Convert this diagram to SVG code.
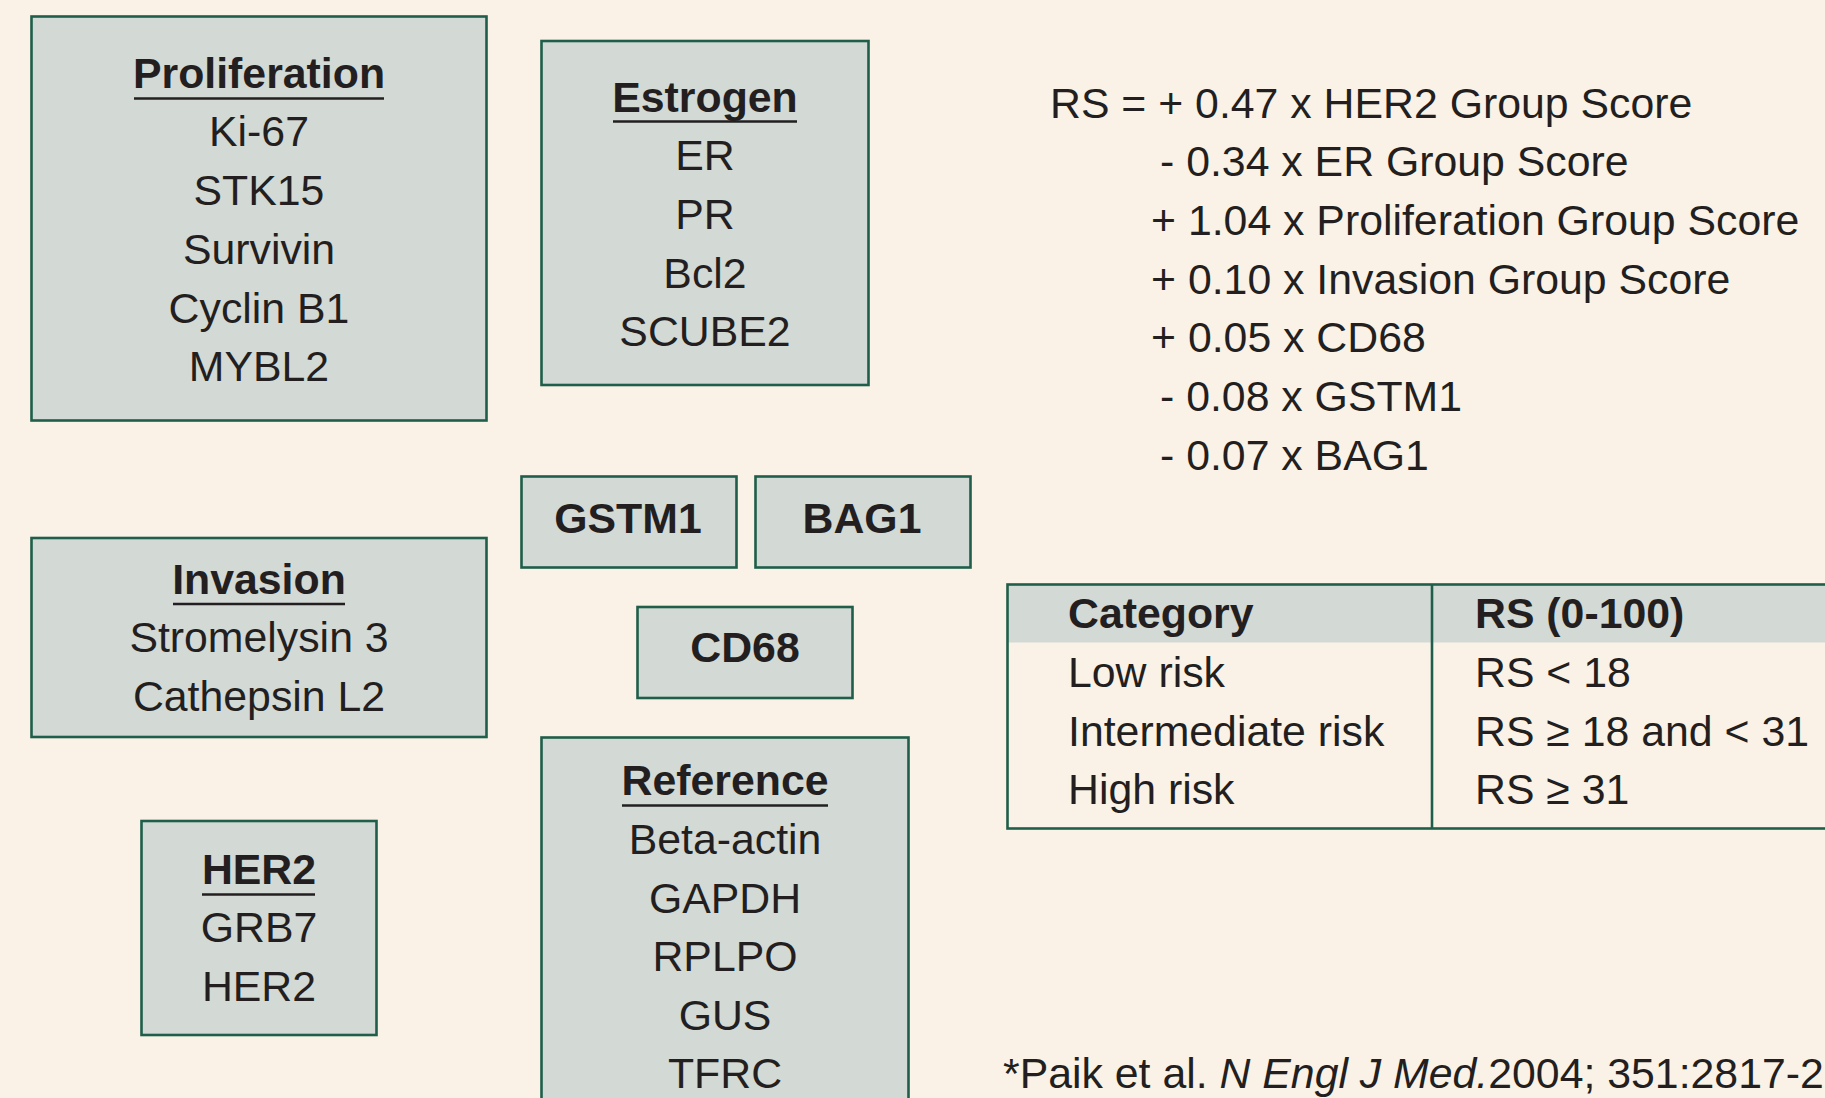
<svg xmlns="http://www.w3.org/2000/svg" width="1825" height="1098" viewBox="0 0 1825 1098">
<style>
.bg{fill:#faf2e6}
.box{fill:#d3d9d5;stroke:#1e5e4a;stroke-width:2.6}
.t{font-family:"Liberation Sans",Arial,Helvetica,sans-serif;font-size:42.8px;fill:#231f20}
.c{text-anchor:middle}
.b{font-weight:bold}
.ul{stroke:#231f20;stroke-width:2.6}
.tb{fill:none;stroke:#1e5e4a;stroke-width:2.6}
.hdr{fill:#d3d9d5}
</style>
<rect class="bg" x="0" y="0" width="1825" height="1098"/>

<g id="proliferation">
<rect class="box" x="31.5" y="16.5" width="455" height="404"/>
<text class="t c b" x="259" y="87.5">Proliferation</text>
<line class="ul" x1="134" y1="98.5" x2="384" y2="98.5"/>
<text class="t c" x="259" y="146">Ki-67</text>
<text class="t c" x="259" y="205">STK15</text>
<text class="t c" x="259" y="263.5">Survivin</text>
<text class="t c" x="259" y="322.5">Cyclin B1</text>
<text class="t c" x="259" y="381">MYBL2</text>
</g>

<g id="estrogen">
<rect class="box" x="541.5" y="41" width="327" height="344"/>
<text class="t c b" x="705" y="112">Estrogen</text>
<line class="ul" x1="613" y1="121.5" x2="797" y2="121.5"/>
<text class="t c" x="705" y="170">ER</text>
<text class="t c" x="705" y="228.5">PR</text>
<text class="t c" x="705" y="287.5">Bcl2</text>
<text class="t c" x="705" y="346">SCUBE2</text>
</g>

<g id="gstm1">
<rect class="box" x="521.5" y="476.5" width="215" height="91"/>
<text class="t c b" x="628" y="532.5">GSTM1</text>
</g>

<g id="bag1">
<rect class="box" x="755.5" y="476.5" width="215" height="91"/>
<text class="t c b" x="862" y="532.5">BAG1</text>
</g>

<g id="cd68">
<rect class="box" x="637.5" y="607" width="215" height="91"/>
<text class="t c b" x="745" y="662">CD68</text>
</g>

<g id="invasion">
<rect class="box" x="31.5" y="538" width="455" height="199"/>
<text class="t c b" x="259" y="594">Invasion</text>
<line class="ul" x1="173" y1="604" x2="345" y2="604"/>
<text class="t c" x="259" y="652">Stromelysin 3</text>
<text class="t c" x="259" y="710.5">Cathepsin L2</text>
</g>

<g id="her2">
<rect class="box" x="141.5" y="821" width="235" height="214"/>
<text class="t c b" x="259" y="883.5">HER2</text>
<line class="ul" x1="202" y1="894.5" x2="315" y2="894.5"/>
<text class="t c" x="259" y="942">GRB7</text>
<text class="t c" x="259" y="1001">HER2</text>
</g>

<g id="reference">
<rect class="box" x="541.5" y="737.5" width="367" height="370"/>
<text class="t c b" x="725" y="795">Reference</text>
<line class="ul" x1="622" y1="805.5" x2="828" y2="805.5"/>
<text class="t c" x="725" y="853.5">Beta-actin</text>
<text class="t c" x="725" y="913">GAPDH</text>
<text class="t c" x="725" y="971">RPLPO</text>
<text class="t c" x="725" y="1029.5">GUS</text>
<text class="t c" x="725" y="1088">TFRC</text>
</g>

<g id="equation">
<text class="t" x="1050" y="118">RS = + 0.47 x HER2 Group Score</text>
<text class="t" x="1160" y="176">- 0.34 x ER Group Score</text>
<text class="t" x="1151" y="235">+ 1.04 x Proliferation Group Score</text>
<text class="t" x="1151" y="293.5">+ 0.10 x Invasion Group Score</text>
<text class="t" x="1151" y="352">+ 0.05 x CD68</text>
<text class="t" x="1160" y="411">- 0.08 x GSTM1</text>
<text class="t" x="1160" y="469.5">- 0.07 x BAG1</text>
</g>

<g id="risk-table">
<rect class="hdr" x="1007.5" y="584.5" width="830" height="58"/>
<rect class="tb" x="1007.5" y="584.5" width="830" height="244"/>
<line class="tb" x1="1432" y1="584.5" x2="1432" y2="828.5"/>
<text class="t b" x="1068" y="627.5">Category</text>
<text class="t b" x="1475" y="627.5">RS (0-100)</text>
<text class="t" x="1068" y="687">Low risk</text>
<text class="t" x="1475" y="687">RS &lt; 18</text>
<text class="t" x="1068" y="745.5">Intermediate risk</text>
<text class="t" x="1475" y="745.5">RS ≥ 18 and &lt; 31</text>
<text class="t" x="1068" y="804">High risk</text>
<text class="t" x="1475" y="804">RS ≥ 31</text>
</g>

<g id="citation">
<text class="t" x="1003" y="1087.5">*Paik et al. <tspan font-style="italic">N Engl J Med.</tspan>2004; 351:2817-2</text>
</g>

<g id="connectors"/>
</svg>
